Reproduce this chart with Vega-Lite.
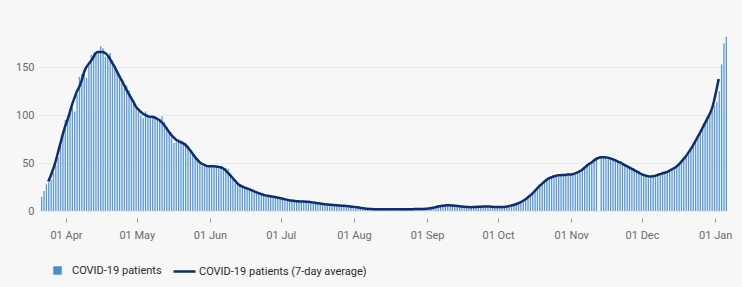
{
  "$schema": "https://vega.github.io/schema/vega-lite/v6.json",
  "width": 687,
  "height": 182,
  "autosize": {"type": "none"},
  "padding": {"left": 40, "top": 29, "right": 15, "bottom": 76},
  "background": "#f7f7f7",
  "config": {
    "view": {"stroke": null},
    "font": "Roboto",
    "axis": {"labelFont": "Roboto", "labelFontSize": 11, "labelColor": "#6b6b6b"},
    "legend": {"labelFont": "Roboto", "labelFontSize": 11, "labelColor": "#2b2b2b", "labelLimit": 400, "padding": 0}
  },
  "data": {"values": [
    {"date":"2020-03-21","patients":15,"avg":null},
    {"date":"2020-03-22","patients":21,"avg":null},
    {"date":"2020-03-23","patients":28,"avg":null},
    {"date":"2020-03-24","patients":30,"avg":30.7},
    {"date":"2020-03-25","patients":33,"avg":36.6},
    {"date":"2020-03-26","patients":40,"avg":43.3},
    {"date":"2020-03-27","patients":48,"avg":50.7},
    {"date":"2020-03-28","patients":56,"avg":60.0},
    {"date":"2020-03-29","patients":68,"avg":69.3},
    {"date":"2020-03-30","patients":80,"avg":78.7},
    {"date":"2020-03-31","patients":95,"avg":87.3},
    {"date":"2020-04-01","patients":98,"avg":94.1},
    {"date":"2020-04-02","patients":106,"avg":101.9},
    {"date":"2020-04-03","patients":108,"avg":110.4},
    {"date":"2020-04-04","patients":104,"avg":117.3},
    {"date":"2020-04-05","patients":122,"avg":124.1},
    {"date":"2020-04-06","patients":140,"avg":128.9},
    {"date":"2020-04-07","patients":143,"avg":135.1},
    {"date":"2020-04-08","patients":146,"avg":143.6},
    {"date":"2020-04-09","patients":139,"avg":149.6},
    {"date":"2020-04-10","patients":152,"avg":153.1},
    {"date":"2020-04-11","patients":163,"avg":156.4},
    {"date":"2020-04-12","patients":164,"avg":160.1},
    {"date":"2020-04-13","patients":165,"avg":164.6},
    {"date":"2020-04-14","patients":166,"avg":165.9},
    {"date":"2020-04-15","patients":172,"avg":166.0},
    {"date":"2020-04-16","patients":170,"avg":166.1},
    {"date":"2020-04-17","patients":161,"avg":165.0},
    {"date":"2020-04-18","patients":164,"avg":162.9},
    {"date":"2020-04-19","patients":165,"avg":159.3},
    {"date":"2020-04-20","patients":157,"avg":155.0},
    {"date":"2020-04-21","patients":151,"avg":151.1},
    {"date":"2020-04-22","patients":147,"avg":146.1},
    {"date":"2020-04-23","patients":140,"avg":141.3},
    {"date":"2020-04-24","patients":134,"avg":136.9},
    {"date":"2020-04-25","patients":129,"avg":132.1},
    {"date":"2020-04-26","patients":131,"avg":127.3},
    {"date":"2020-04-27","patients":126,"avg":122.7},
    {"date":"2020-04-28","patients":118,"avg":118.4},
    {"date":"2020-04-29","patients":113,"avg":114.3},
    {"date":"2020-04-30","patients":108,"avg":109.4},
    {"date":"2020-05-01","patients":104,"avg":106.3},
    {"date":"2020-05-02","patients":100,"avg":103.9},
    {"date":"2020-05-03","patients":97,"avg":101.9},
    {"date":"2020-05-04","patients":104,"avg":100.3},
    {"date":"2020-05-05","patients":101,"avg":99.1},
    {"date":"2020-05-06","patients":99,"avg":98.4},
    {"date":"2020-05-07","patients":97,"avg":98.3},
    {"date":"2020-05-08","patients":96,"avg":97.6},
    {"date":"2020-05-09","patients":95,"avg":96.4},
    {"date":"2020-05-10","patients":96,"avg":94.9},
    {"date":"2020-05-11","patients":99,"avg":92.7},
    {"date":"2020-05-12","patients":93,"avg":90.0},
    {"date":"2020-05-13","patients":88,"avg":86.6},
    {"date":"2020-05-14","patients":82,"avg":83.1},
    {"date":"2020-05-15","patients":77,"avg":79.7},
    {"date":"2020-05-16","patients":71,"avg":77.0},
    {"date":"2020-05-17","patients":72,"avg":74.7},
    {"date":"2020-05-18","patients":75,"avg":73.1},
    {"date":"2020-05-19","patients":74,"avg":71.9},
    {"date":"2020-05-20","patients":72,"avg":70.9},
    {"date":"2020-05-21","patients":71,"avg":69.1},
    {"date":"2020-05-22","patients":68,"avg":66.6},
    {"date":"2020-05-23","patients":64,"avg":63.6},
    {"date":"2020-05-24","patients":60,"avg":60.4},
    {"date":"2020-05-25","patients":57,"avg":57.0},
    {"date":"2020-05-26","patients":53,"avg":53.9},
    {"date":"2020-05-27","patients":50,"avg":51.3},
    {"date":"2020-05-28","patients":47,"avg":49.4},
    {"date":"2020-05-29","patients":46,"avg":48.1},
    {"date":"2020-05-30","patients":46,"avg":47.1},
    {"date":"2020-05-31","patients":47,"avg":46.7},
    {"date":"2020-06-01","patients":48,"avg":46.7},
    {"date":"2020-06-02","patients":46,"avg":46.6},
    {"date":"2020-06-03","patients":47,"avg":46.4},
    {"date":"2020-06-04","patients":47,"avg":46.1},
    {"date":"2020-06-05","patients":45,"avg":45.6},
    {"date":"2020-06-06","patients":45,"avg":44.6},
    {"date":"2020-06-07","patients":45,"avg":42.6},
    {"date":"2020-06-08","patients":44,"avg":40.0},
    {"date":"2020-06-09","patients":39,"avg":37.4},
    {"date":"2020-06-10","patients":33,"avg":34.7},
    {"date":"2020-06-11","patients":29,"avg":31.9},
    {"date":"2020-06-12","patients":27,"avg":29.1},
    {"date":"2020-06-13","patients":26,"avg":27.0},
    {"date":"2020-06-14","patients":25,"avg":25.6},
    {"date":"2020-06-15","patients":25,"avg":24.6},
    {"date":"2020-06-16","patients":24,"avg":23.7},
    {"date":"2020-06-17","patients":23,"avg":22.9},
    {"date":"2020-06-18","patients":22,"avg":21.9},
    {"date":"2020-06-19","patients":21,"avg":20.7},
    {"date":"2020-06-20","patients":20,"avg":19.7},
    {"date":"2020-06-21","patients":18,"avg":18.7},
    {"date":"2020-06-22","patients":17,"avg":17.9},
    {"date":"2020-06-23","patients":17,"avg":17.0},
    {"date":"2020-06-24","patients":16,"avg":16.3},
    {"date":"2020-06-25","patients":16,"avg":15.9},
    {"date":"2020-06-26","patients":15,"avg":15.4},
    {"date":"2020-06-27","patients":15,"avg":15.0},
    {"date":"2020-06-28","patients":15,"avg":14.6},
    {"date":"2020-06-29","patients":14,"avg":14.0},
    {"date":"2020-06-30","patients":14,"avg":13.6},
    {"date":"2020-07-01","patients":13,"avg":13.0},
    {"date":"2020-07-02","patients":12,"avg":12.4},
    {"date":"2020-07-03","patients":12,"avg":11.9},
    {"date":"2020-07-04","patients":11,"avg":11.3},
    {"date":"2020-07-05","patients":11,"avg":10.9},
    {"date":"2020-07-06","patients":10,"avg":10.6},
    {"date":"2020-07-07","patients":10,"avg":10.3},
    {"date":"2020-07-08","patients":10,"avg":10.1},
    {"date":"2020-07-09","patients":10,"avg":10.0},
    {"date":"2020-07-10","patients":10,"avg":9.9},
    {"date":"2020-07-11","patients":10,"avg":9.7},
    {"date":"2020-07-12","patients":10,"avg":9.6},
    {"date":"2020-07-13","patients":9,"avg":9.3},
    {"date":"2020-07-14","patients":9,"avg":9.0},
    {"date":"2020-07-15","patients":9,"avg":8.6},
    {"date":"2020-07-16","patients":8,"avg":8.1},
    {"date":"2020-07-17","patients":8,"avg":7.9},
    {"date":"2020-07-18","patients":7,"avg":7.6},
    {"date":"2020-07-19","patients":7,"avg":7.1},
    {"date":"2020-07-20","patients":7,"avg":6.9},
    {"date":"2020-07-21","patients":7,"avg":6.6},
    {"date":"2020-07-22","patients":6,"avg":6.4},
    {"date":"2020-07-23","patients":6,"avg":6.3},
    {"date":"2020-07-24","patients":6,"avg":6.0},
    {"date":"2020-07-25","patients":6,"avg":5.7},
    {"date":"2020-07-26","patients":6,"avg":5.6},
    {"date":"2020-07-27","patients":5,"avg":5.4},
    {"date":"2020-07-28","patients":5,"avg":5.3},
    {"date":"2020-07-29","patients":5,"avg":5.0},
    {"date":"2020-07-30","patients":5,"avg":4.7},
    {"date":"2020-07-31","patients":5,"avg":4.4},
    {"date":"2020-08-01","patients":4,"avg":4.1},
    {"date":"2020-08-02","patients":4,"avg":3.9},
    {"date":"2020-08-03","patients":3,"avg":3.4},
    {"date":"2020-08-04","patients":3,"avg":3.0},
    {"date":"2020-08-05","patients":3,"avg":2.7},
    {"date":"2020-08-06","patients":2,"avg":2.4},
    {"date":"2020-08-07","patients":2,"avg":2.1},
    {"date":"2020-08-08","patients":2,"avg":2.0},
    {"date":"2020-08-09","patients":2,"avg":1.9},
    {"date":"2020-08-10","patients":1,"avg":1.9},
    {"date":"2020-08-11","patients":2,"avg":1.9},
    {"date":"2020-08-12","patients":2,"avg":1.9},
    {"date":"2020-08-13","patients":2,"avg":1.9},
    {"date":"2020-08-14","patients":2,"avg":1.9},
    {"date":"2020-08-15","patients":2,"avg":1.9},
    {"date":"2020-08-16","patients":1,"avg":1.9},
    {"date":"2020-08-17","patients":2,"avg":1.9},
    {"date":"2020-08-18","patients":2,"avg":1.9},
    {"date":"2020-08-19","patients":2,"avg":1.9},
    {"date":"2020-08-20","patients":2,"avg":1.9},
    {"date":"2020-08-21","patients":2,"avg":1.9},
    {"date":"2020-08-22","patients":2,"avg":1.9},
    {"date":"2020-08-23","patients":1,"avg":1.9},
    {"date":"2020-08-24","patients":2,"avg":1.9},
    {"date":"2020-08-25","patients":2,"avg":1.9},
    {"date":"2020-08-26","patients":2,"avg":2.0},
    {"date":"2020-08-27","patients":2,"avg":2.0},
    {"date":"2020-08-28","patients":2,"avg":2.0},
    {"date":"2020-08-29","patients":2,"avg":2.0},
    {"date":"2020-08-30","patients":2,"avg":2.1},
    {"date":"2020-08-31","patients":2,"avg":2.3},
    {"date":"2020-09-01","patients":2,"avg":2.6},
    {"date":"2020-09-02","patients":3,"avg":3.0},
    {"date":"2020-09-03","patients":3,"avg":3.4},
    {"date":"2020-09-04","patients":4,"avg":4.0},
    {"date":"2020-09-05","patients":5,"avg":4.6},
    {"date":"2020-09-06","patients":5,"avg":5.0},
    {"date":"2020-09-07","patients":6,"avg":5.4},
    {"date":"2020-09-08","patients":6,"avg":5.7},
    {"date":"2020-09-09","patients":6,"avg":5.9},
    {"date":"2020-09-10","patients":6,"avg":5.9},
    {"date":"2020-09-11","patients":6,"avg":5.7},
    {"date":"2020-09-12","patients":6,"avg":5.6},
    {"date":"2020-09-13","patients":5,"avg":5.3},
    {"date":"2020-09-14","patients":5,"avg":5.0},
    {"date":"2020-09-15","patients":5,"avg":4.7},
    {"date":"2020-09-16","patients":4,"avg":4.4},
    {"date":"2020-09-17","patients":4,"avg":4.3},
    {"date":"2020-09-18","patients":4,"avg":4.1},
    {"date":"2020-09-19","patients":4,"avg":4.0},
    {"date":"2020-09-20","patients":4,"avg":4.1},
    {"date":"2020-09-21","patients":4,"avg":4.3},
    {"date":"2020-09-22","patients":4,"avg":4.4},
    {"date":"2020-09-23","patients":5,"avg":4.4},
    {"date":"2020-09-24","patients":5,"avg":4.6},
    {"date":"2020-09-25","patients":5,"avg":4.6},
    {"date":"2020-09-26","patients":4,"avg":4.7},
    {"date":"2020-09-27","patients":5,"avg":4.6},
    {"date":"2020-09-28","patients":4,"avg":4.4},
    {"date":"2020-09-29","patients":5,"avg":4.3},
    {"date":"2020-09-30","patients":4,"avg":4.3},
    {"date":"2020-10-01","patients":4,"avg":4.1},
    {"date":"2020-10-02","patients":4,"avg":4.3},
    {"date":"2020-10-03","patients":4,"avg":4.3},
    {"date":"2020-10-04","patients":4,"avg":4.6},
    {"date":"2020-10-05","patients":5,"avg":5.0},
    {"date":"2020-10-06","patients":5,"avg":5.6},
    {"date":"2020-10-07","patients":6,"avg":6.3},
    {"date":"2020-10-08","patients":7,"avg":7.1},
    {"date":"2020-10-09","patients":8,"avg":8.0},
    {"date":"2020-10-10","patients":9,"avg":9.1},
    {"date":"2020-10-11","patients":10,"avg":10.4},
    {"date":"2020-10-12","patients":11,"avg":12.0},
    {"date":"2020-10-13","patients":13,"avg":13.9},
    {"date":"2020-10-14","patients":15,"avg":15.9},
    {"date":"2020-10-15","patients":18,"avg":18.1},
    {"date":"2020-10-16","patients":21,"avg":20.7},
    {"date":"2020-10-17","patients":23,"avg":23.3},
    {"date":"2020-10-18","patients":26,"avg":25.9},
    {"date":"2020-10-19","patients":29,"avg":28.1},
    {"date":"2020-10-20","patients":31,"avg":30.3},
    {"date":"2020-10-21","patients":33,"avg":32.3},
    {"date":"2020-10-22","patients":34,"avg":34.0},
    {"date":"2020-10-23","patients":36,"avg":35.0},
    {"date":"2020-10-24","patients":37,"avg":36.0},
    {"date":"2020-10-25","patients":38,"avg":36.7},
    {"date":"2020-10-26","patients":36,"avg":37.3},
    {"date":"2020-10-27","patients":38,"avg":37.4},
    {"date":"2020-10-28","patients":38,"avg":37.6},
    {"date":"2020-10-29","patients":38,"avg":37.7},
    {"date":"2020-10-30","patients":37,"avg":38.0},
    {"date":"2020-10-31","patients":38,"avg":38.1},
    {"date":"2020-11-01","patients":39,"avg":38.4},
    {"date":"2020-11-02","patients":38,"avg":39.0},
    {"date":"2020-11-03","patients":39,"avg":40.0},
    {"date":"2020-11-04","patients":40,"avg":41.3},
    {"date":"2020-11-05","patients":42,"avg":42.9},
    {"date":"2020-11-06","patients":44,"avg":44.9},
    {"date":"2020-11-07","patients":47,"avg":47.0},
    {"date":"2020-11-08","patients":50,"avg":49.1},
    {"date":"2020-11-09","patients":52,"avg":50.3},
    {"date":"2020-11-10","patients":54,"avg":52.5},
    {"date":"2020-11-11","patients":55,"avg":54.2},
    {"date":"2020-11-12","patients":null,"avg":55.3},
    {"date":"2020-11-13","patients":57,"avg":56.0},
    {"date":"2020-11-14","patients":57,"avg":56.2},
    {"date":"2020-11-15","patients":57,"avg":56.0},
    {"date":"2020-11-16","patients":56,"avg":55.7},
    {"date":"2020-11-17","patients":55,"avg":55.0},
    {"date":"2020-11-18","patients":54,"avg":54.1},
    {"date":"2020-11-19","patients":54,"avg":53.1},
    {"date":"2020-11-20","patients":52,"avg":52.0},
    {"date":"2020-11-21","patients":51,"avg":50.9},
    {"date":"2020-11-22","patients":50,"avg":49.6},
    {"date":"2020-11-23","patients":48,"avg":48.1},
    {"date":"2020-11-24","patients":47,"avg":46.9},
    {"date":"2020-11-25","patients":45,"avg":45.6},
    {"date":"2020-11-26","patients":44,"avg":44.3},
    {"date":"2020-11-27","patients":43,"avg":43.0},
    {"date":"2020-11-28","patients":42,"avg":41.6},
    {"date":"2020-11-29","patients":41,"avg":40.3},
    {"date":"2020-11-30","patients":39,"avg":38.9},
    {"date":"2020-12-01","patients":37,"avg":37.7},
    {"date":"2020-12-02","patients":36,"avg":36.9},
    {"date":"2020-12-03","patients":34,"avg":36.3},
    {"date":"2020-12-04","patients":35,"avg":36.1},
    {"date":"2020-12-05","patients":36,"avg":36.3},
    {"date":"2020-12-06","patients":37,"avg":36.7},
    {"date":"2020-12-07","patients":38,"avg":37.6},
    {"date":"2020-12-08","patients":38,"avg":38.4},
    {"date":"2020-12-09","patients":39,"avg":39.1},
    {"date":"2020-12-10","patients":40,"avg":39.9},
    {"date":"2020-12-11","patients":41,"avg":40.7},
    {"date":"2020-12-12","patients":41,"avg":41.9},
    {"date":"2020-12-13","patients":42,"avg":43.1},
    {"date":"2020-12-14","patients":44,"avg":44.6},
    {"date":"2020-12-15","patients":46,"avg":46.3},
    {"date":"2020-12-16","patients":48,"avg":48.4},
    {"date":"2020-12-17","patients":50,"avg":51.0},
    {"date":"2020-12-18","patients":53,"avg":53.9},
    {"date":"2020-12-19","patients":56,"avg":57.0},
    {"date":"2020-12-20","patients":60,"avg":60.4},
    {"date":"2020-12-21","patients":64,"avg":64.1},
    {"date":"2020-12-22","patients":68,"avg":68.1},
    {"date":"2020-12-23","patients":72,"avg":72.4},
    {"date":"2020-12-24","patients":76,"avg":76.9},
    {"date":"2020-12-25","patients":81,"avg":81.4},
    {"date":"2020-12-26","patients":86,"avg":86.1},
    {"date":"2020-12-27","patients":91,"avg":90.9},
    {"date":"2020-12-28","patients":96,"avg":95.7},
    {"date":"2020-12-29","patients":101,"avg":100.4},
    {"date":"2020-12-30","patients":105,"avg":106.0},
    {"date":"2020-12-31","patients":110,"avg":114.9},
    {"date":"2021-01-01","patients":114,"avg":126.1},
    {"date":"2021-01-02","patients":125,"avg":137.7},
    {"date":"2021-01-03","patients":153,"avg":null},
    {"date":"2021-01-04","patients":175,"avg":null},
    {"date":"2021-01-05","patients":182,"avg":null}
  ]},
  "layer": [
    {
      "mark": {"type": "bar", "stroke": "#ffffff", "strokeWidth": 0.2, "strokeOpacity": 0.8},
      "encoding": {
        "x": {
          "field": "date", "timeUnit": "utcyearmonthdate", "type": "temporal",
          "scale": {"domain": [{"year": 2020, "month": 3, "date": 21, "utc": true}, {"year": 2021, "month": 1, "date": 6, "utc": true}], "nice": false},
          "axis": {"title": null, "format": "%d %b", "tickCount": {"interval": "month", "step": 1}, "grid": false, "domain": false, "tickSize": 4, "tickColor": "#9a9a9a", "offset": 7, "labelPadding": 7, "labelFlush": false, "labelOverlap": false}
        },
        "y": {
          "field": "patients", "type": "quantitative",
          "scale": {"domain": [0, 190], "nice": false},
          "axis": {"title": null, "values": [0, 50, 100, 150], "grid": true, "gridColor": "#e8e8e8", "domain": false, "ticks": false, "labelPadding": 6}
        },
        "fill": {
          "datum": "COVID-19 patients", "type": "nominal",
          "scale": {"domain": ["COVID-19 patients"], "range": ["#4a8fd6"]},
          "legend": {
            "orient": "none", "legendX": 12, "legendY": 236, "direction": "horizontal", "title": null,
            "symbolType": "square", "symbolSize": 72, "symbolStrokeWidth": 0, "labelOffset": 9
          }
        }
      }
    },
    {
      "mark": {"type": "line", "strokeWidth": 2.5, "interpolate": "monotone"},
      "encoding": {
        "x": {"field": "date", "timeUnit": "utcyearmonthdate", "type": "temporal", "bandPosition": 0.5},
        "y": {"field": "avg", "type": "quantitative"},
        "stroke": {
          "datum": "COVID-19 patients (7-day average)", "type": "nominal",
          "scale": {"domain": ["COVID-19 patients (7-day average)"], "range": ["#0d2d6c"]},
          "legend": {
            "orient": "none", "legendX": 132, "legendY": 230, "direction": "horizontal", "title": null,
            "symbolType": "stroke", "symbolSize": 484, "symbolStrokeWidth": 2.5, "labelOffset": 2
          }
        }
      }
    }
  ]
}
